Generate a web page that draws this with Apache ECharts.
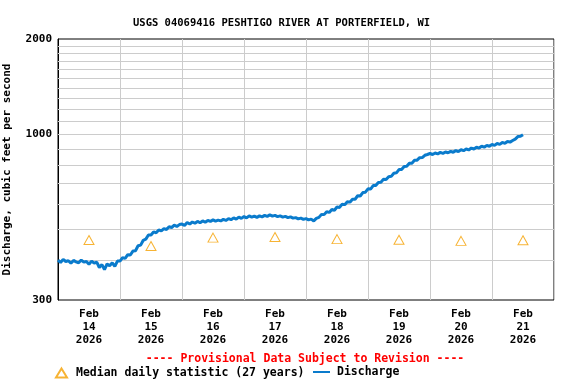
<!DOCTYPE html>
<html><head><meta charset="utf-8">
<script src="https://cdn.jsdelivr.net/npm/echarts@6/dist/echarts.min.js"></script>
<style>html,body{margin:0;padding:0;background:#fff}#c{width:576px;height:384px}</style>
</head><body><div id="c"></div>
<script>
// hours since Feb 14 2026 00:00, hourly discharge (cfs)
const dischargeStartHour = 0;
const discharge = [
401,394,403,397,399,392,400,396,393,401,395,397,389,398,392,395,380,388,374,390,385,393,383,398,
398,408,406,417,416,428,429,445,447,463,467,481,481,492,489,499,496,504,501,511,508,517,512,519,
521,516,527,521,529,524,531,526,533,528,535,531,537,532,536,533,539,535,542,538,545,540,548,543,
550,545,553,548,552,547,553,549,555,551,557,552,555,550,553,548,551,546,549,544,546,541,544,539,542,537,540,533,
543,547,559,558,570,567,579,576,590,588,602,600,613,611,624,624,640,639,655,657,673,672,689,690,705,706,721,720,735,737,754,756,774,775,792,793,810,811,828,829,844,845,859,864,
870,864,873,868,877,871,880,875,884,878,889,882,894,888,899,893,905,899,911,905,917,911,923,917,929,923,936,930,943,937,950,945,956,966,984,986,998
];
const medianHours = [12,36,60,84,108,132,156,180];
const medianValues = [464,444,472,474,467,465,461,463];
const dayLabels = ['Feb\n14\n2026','Feb\n15\n2026','Feb\n16\n2026','Feb\n17\n2026','Feb\n18\n2026','Feb\n19\n2026','Feb\n20\n2026','Feb\n21\n2026'];
const yTickLabels = [300,1000,2000];
const gridValues = [400,500,600,700,800,900,1000,1100,1200,1300,1400,1500,1600,1700,1800,1900];

const FONT = "'DejaVu Sans Mono', monospace";
const dischargeData = discharge.map((v,i)=>[dischargeStartHour+i, v]);
const medianData = medianHours.map((h,i)=>[h, medianValues[i]]);
const legendText = {fontFamily:FONT, fontSize:11.5, fontWeight:'bold', color:'#000'};

const chart = echarts.init(document.getElementById('c'), null, {renderer:'canvas'});
chart.setOption({
  animation:false,
  title:{text:'USGS 04069416 PESHTIGO RIVER AT PORTERFIELD, WI', left:128, top:13,
    textStyle:{fontFamily:FONT, fontSize:10.5, fontWeight:'bold', color:'#000'}},
  grid:{left:58, right:22, top:39, bottom:84, show:true, borderColor:'#000', borderWidth:1,
    backgroundColor:'transparent', containLabel:false, outerBoundsMode:'none'},
  xAxis:[
    {type:'value', min:0, max:192, interval:24, axisLine:{show:false}, axisTick:{show:false},
      axisLabel:{show:false}, splitLine:{show:true, lineStyle:{color:'#cccccc', width:1}}},
    {type:'value', min:0, max:192, interval:12, position:'bottom', axisLine:{show:false}, axisTick:{show:false},
      splitLine:{show:false},
      axisLabel:{show:true, margin:8, lineHeight:13, fontFamily:FONT, fontSize:11, fontWeight:'bold', color:'#000',
        formatter:function(v){ return (v % 24 === 12) ? dayLabels[(v-12)/24] : ''; }}}
  ],
  yAxis:{type:'log', logBase:10, min:300, max:2000,
    name:'Discharge, cubic feet per second', nameLocation:'middle', nameGap:45,
    nameTextStyle:{fontFamily:FONT, fontSize:11, fontWeight:'bold', color:'#000'},
    axisLine:{show:true, lineStyle:{color:'#000'}}, axisTick:{show:false}, splitLine:{show:false},
    axisLabel:{margin:6, fontFamily:FONT, fontSize:11, fontWeight:'bold', color:'#000',
      formatter:function(v){ const r=Math.round(v); return yTickLabels.indexOf(r)>=0 ? String(r) : ''; }}},
  legend:[
    {left:55, top:367, padding:0, itemWidth:11, itemHeight:9, selectedMode:false, textStyle:legendText,
      data:[{name:'Median daily statistic (27 years)', textStyle:{padding:[0,0,0,4]}}]},
    {left:313, top:366, padding:0, itemWidth:17, itemHeight:10, selectedMode:false, textStyle:legendText,
      data:[{name:'Discharge', icon:'path://M0,4 L17,4 L17,6 L0,6 Z', textStyle:{padding:[0,0,0,2]}}]}
  ],
  graphic:[{type:'text', x:305, y:359, style:{text:'---- Provisional Data Subject to Revision ----',
    fill:'#ff0000', font:'bold 11.5px '+FONT, textAlign:'center', textVerticalAlign:'middle'}}],
  series:[
    {name:'grid', type:'line', data:[], xAxisIndex:0, z:1, silent:true,
      markLine:{z:1, silent:true, symbol:'none', label:{show:false}, animation:false,
        lineStyle:{color:'#cccccc', width:1, type:'solid'},
        data:gridValues.map(v=>({yAxis:v}))}},
    {name:'Discharge', type:'line', data:dischargeData, xAxisIndex:0, z:3, showSymbol:false, symbol:'none',
      lineStyle:{color:'#0a7bcc', width:3}, itemStyle:{color:'#0a7bcc'}},
    {name:'Median daily statistic (27 years)', type:'scatter', data:medianData, xAxisIndex:0, z:4,
      symbol:'triangle', symbolSize:[10,9],
      itemStyle:{color:'rgba(255,255,255,0)', borderColor:'#f5a000', borderWidth:1}}
  ]
});
</script></body></html>
